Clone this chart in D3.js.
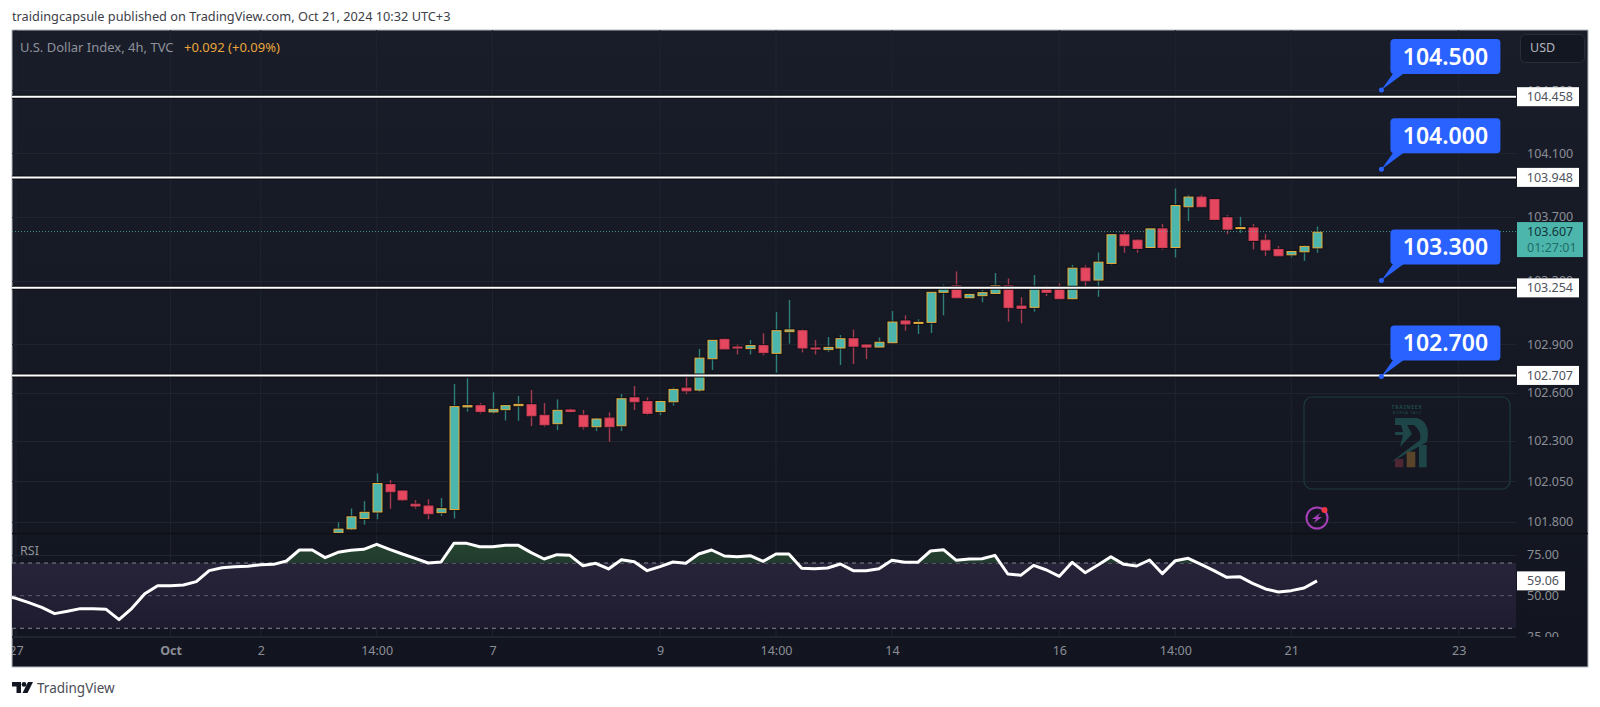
<!DOCTYPE html>
<html>
<head>
<meta charset="utf-8">
<script src="https://cdn.jsdelivr.net/npm/d3@7"></script>
<style>
    html, body { margin: 0; padding: 0; background: #ffffff; }
    svg { display: block; }
    text { font-family: "Noto Sans", sans-serif; }
</style>
</head>
<body>
<div id="chart"></div>
<script>
const opens = [101.732,101.756,101.820,101.860,102.030,101.990,101.908,101.897,101.856,101.875,102.511,102.519,102.480,102.494,102.519,102.525,102.459,102.407,102.492,102.459,102.388,102.442,102.394,102.568,102.545,102.482,102.543,102.628,102.616,102.811,102.932,102.884,102.874,102.893,102.845,102.980,102.986,102.878,102.868,102.878,102.936,102.897,102.884,102.911,103.047,103.032,103.038,103.226,103.267,103.192,103.205,103.219,103.267,103.140,103.132,103.260,103.255,103.186,103.378,103.303,103.407,103.587,103.553,103.507,103.624,103.507,103.763,103.824,103.809,103.694,103.626,103.630,103.553,103.495,103.461,103.480,103.505];
const highs = [101.796,101.882,101.927,102.099,102.057,101.994,101.933,101.938,101.946,102.653,102.689,102.535,102.602,102.523,102.579,102.616,102.535,102.558,102.500,102.492,102.442,102.477,102.591,102.641,102.570,102.551,102.632,102.720,102.872,102.928,102.938,102.899,102.928,102.970,103.103,103.178,102.997,102.928,102.947,102.959,102.993,102.901,102.943,103.109,103.082,103.057,103.226,103.274,103.357,103.217,103.240,103.347,103.313,103.196,103.334,103.272,103.282,103.398,103.396,103.476,103.587,103.612,103.559,103.624,103.654,103.878,103.838,103.838,103.809,103.710,103.700,103.654,103.591,103.516,103.488,103.520,103.639];
const lows = [101.728,101.748,101.782,101.815,101.880,101.927,101.880,101.815,101.835,101.820,102.482,102.470,102.470,102.427,102.425,102.392,102.388,102.367,102.476,102.371,102.361,102.295,102.361,102.492,102.460,102.460,102.519,102.591,102.603,102.741,102.872,102.838,102.838,102.832,102.724,102.905,102.851,102.838,102.853,102.772,102.778,102.809,102.882,102.911,102.986,102.965,102.972,103.082,103.192,103.190,103.164,103.219,103.043,103.032,103.105,103.203,103.186,103.182,103.246,103.198,103.396,103.474,103.474,103.507,103.493,103.445,103.673,103.763,103.675,103.591,103.599,103.495,103.455,103.455,103.445,103.423,103.474];
const closes = [101.754,101.830,101.858,102.036,101.985,101.935,101.897,101.849,101.880,102.513,102.519,102.482,102.496,102.519,102.527,102.456,102.400,102.490,102.482,102.388,102.436,102.388,102.562,102.543,102.471,102.545,102.620,102.611,102.815,102.926,102.872,102.878,102.893,102.849,102.986,102.991,102.878,102.872,102.882,102.936,102.889,102.884,102.914,103.040,103.028,103.038,103.226,103.260,103.192,103.213,103.224,103.267,103.130,103.126,103.260,103.226,103.186,103.377,103.298,103.415,103.587,103.518,103.501,103.624,103.507,103.771,103.824,103.763,103.683,103.622,103.632,103.551,103.491,103.455,103.482,103.514,103.603];

// rsi starts before the first visible candle
const rsiFirstIndex = -26;
const rsiValues = [50.0,48.37,45.71,42.86,38.98,40.41,42.04,42.04,41.63,35.31,42.24,51.22,56.12,56.12,56.53,58.57,65.31,67.14,67.76,67.96,68.98,69.18,71.22,77.96,77.96,73.27,76.53,77.76,78.37,81.43,78.37,75.51,72.86,70.0,70.61,82.04,82.04,80.0,80.0,80.82,80.82,76.33,72.45,75.10,74.69,68.37,69.80,66.33,72.04,70.82,65.31,67.76,70.61,69.80,75.51,77.96,74.29,73.88,74.49,71.02,75.51,75.51,66.73,66.53,66.94,69.39,65.31,65.31,66.53,71.63,70.41,70.41,77.35,78.16,71.63,72.45,72.65,74.69,63.27,62.45,68.57,65.71,61.84,70.41,64.08,68.78,73.88,69.18,68.16,71.84,63.47,71.43,72.86,69.18,65.31,61.22,61.63,57.55,54.08,52.24,53.06,54.69,59.06];

const timeTickIndex = [-25,-13,-6,3,12,25,34,43,56,65,74,87];
const timeTickLabels = ["27","Oct","2","14:00","7","9","14:00","14","16","14:00","21","23"];
const priceTicks = [104.5,104.1,103.7,103.3,102.9,102.6,102.3,102.05,101.8];
const rsiTicks = [75,50,25];
const rsiBands = [70,50,30];

const levelValues = [104.458,103.948,103.254,102.707];
const calloutValues = [104.5,104.0,103.3,102.7];
const calloutIndex = 81;

const lastPrice = 103.607;
const lastPriceCountdown = "01:27:01";
const lastRsi = 59.06;

const width = 1600;
const height = 707;
const pane = { left: 12, right: 1516, outer: 1588, top: 30, split: 533, rsiBottom: 637, bottom: 667 };

const axisColor = "#8b8e97";
const gridColor = "#20242f";
const upFill = "#4db6ac";
const upBorder = "#e6a93a";
const upWick = "#2e7f79";
const downFill = "#e5475f";
const downWick = "#a63a50";

const x = d3.scaleLinear().domain([0, 76]).range([338, 1317]);

// the price pane is on a log axis, label spacing shrinks going up
const y = d3.scaleLog().domain([101.8, 104.1]).range([521.7, 153.3]);
const yRsi = d3.scaleLinear().domain([30, 70]).range([628.3, 563]);

const svg = d3.select("#chart")
    .append("svg")
    .attr("width", width)
    .attr("height", height)
    .attr("viewBox", [0, 0, width, height]);

const defs = svg.append("defs");

const addGradient = (id, top, bottom) => {
    const gradient = defs.append("linearGradient")
        .attr("id", id)
        .attr("x1", 0).attr("x2", 0).attr("y1", 0).attr("y2", 1);
    gradient.append("stop").attr("offset", "0%").attr("stop-color", top);
    gradient.append("stop").attr("offset", "100%").attr("stop-color", bottom);
};
addGradient("bgGradient", "#191d29", "#12151f");
addGradient("bandGradient", "#272339", "#1f1c30");
addGradient("overGradient", "#25442f", "#182029");

const addClip = (id, x0, y0, w, h) => {
    defs.append("clipPath").attr("id", id)
        .append("rect").attr("x", x0).attr("y", y0).attr("width", w).attr("height", h);
};
addClip("priceClip", pane.left, pane.top, pane.right - pane.left, pane.split - pane.top);
addClip("rsiClip", pane.left, pane.split + 1, pane.right - pane.left, pane.rsiBottom - pane.split - 1);
addClip("rsiOverClip", pane.left, pane.split + 1, pane.right - pane.left, yRsi(70) - pane.split - 1);
addClip("rsiAxisClip", pane.right, pane.split + 1, pane.outer - pane.right, pane.rsiBottom - pane.split - 1);
addClip("timeClip", pane.left, pane.rsiBottom, pane.outer - pane.left, pane.bottom - pane.rsiBottom);

svg.append("text")
    .attr("x", 12).attr("y", 21)
    .attr("font-size", 12.75).attr("fill", "#3d4048")
    .text("traidingcapsule published on TradingView.com, Oct 21, 2024 10:32 UTC+3");

svg.append("rect")
    .attr("x", pane.left).attr("y", pane.top)
    .attr("width", pane.outer - pane.left).attr("height", pane.bottom - pane.top)
    .attr("fill", "url(#bgGradient)")
    .attr("stroke", "#b4b8c2");

// grid
svg.append("g")
    .selectAll("line")
    .data(timeTickIndex)
    .join("line")
    .attr("x1", d => x(d)).attr("x2", d => x(d))
    .attr("y1", pane.top).attr("y2", pane.rsiBottom)
    .attr("stroke", gridColor);

svg.append("g")
    .selectAll("line")
    .data(priceTicks)
    .join("line")
    .attr("x1", pane.left).attr("x2", pane.right)
    .attr("y1", d => Math.round(y(d)) + 0.5).attr("y2", d => Math.round(y(d)) + 0.5)
    .attr("stroke", gridColor);

svg.append("g")
    .attr("clip-path", "url(#rsiClip)")
    .selectAll("line")
    .data(rsiTicks)
    .join("line")
    .attr("x1", pane.left).attr("x2", pane.right)
    .attr("y1", d => Math.round(yRsi(d)) + 0.5).attr("y2", d => Math.round(yRsi(d)) + 0.5)
    .attr("stroke", gridColor);

svg.append("line")
    .attr("x1", pane.left).attr("x2", pane.outer)
    .attr("y1", pane.split + 0.5).attr("y2", pane.split + 0.5)
    .attr("stroke", "#0d0f15").attr("stroke-width", 1.5);

svg.append("line")
    .attr("x1", pane.left).attr("x2", pane.right)
    .attr("y1", pane.rsiBottom + 0.5).attr("y2", pane.rsiBottom + 0.5)
    .attr("stroke", gridColor);

// watermark logo box
const mark = svg.append("g").attr("transform", "translate(1304,397)");
mark.append("rect")
    .attr("width", 206).attr("height", 92).attr("rx", 8)
    .attr("fill", "none").attr("stroke", "#1c3a3c").attr("stroke-width", 1.2);
mark.append("text")
    .attr("x", 103).attr("y", 12)
    .attr("text-anchor", "middle").attr("font-size", 5).attr("font-weight", 700)
    .attr("letter-spacing", 0.8).attr("fill", "#1f4a4a")
    .text("TRAINEEX");
mark.append("text")
    .attr("x", 103).attr("y", 16.5)
    .attr("text-anchor", "middle").attr("font-size", 4).attr("fill", "#1f4a4a")
    .attr("letter-spacing", 0.6)
    .text("BORSA TALK");
mark.append("path")
    .attr("d", "M91,21 H113 Q124,24 124,38 L123,45 Q105,55 86,66 Q100,55 116,43 Q118,34 110,28 H103 L108,37 L96,50 L99,38 H91 L91,35 H99 L97,28 H91 Z")
    .attr("fill", "#1e4547");
mark.append("rect").attr("x", 91).attr("y", 62).attr("width", 8.3).attr("height", 8.3).attr("fill", "#4f2633");
mark.append("rect").attr("x", 102.7).attr("y", 54.7).attr("width", 8.6).attr("height", 15.6).attr("fill", "#5a452b");
mark.append("rect").attr("x", 115).attr("y", 48).attr("width", 7.7).attr("height", 22.3).attr("fill", "#1e4547");

// flash icon
const flash = svg.append("g").attr("transform", "translate(1317,518)");
flash.append("circle").attr("r", 10.5).attr("fill", "none").attr("stroke", "#a63fb8").attr("stroke-width", 2);
flash.append("path")
    .attr("d", "M3,-5 L-5,1 L-1,1 L-3,5 L5,-1 L1,-1 Z")
    .attr("fill", "#a63fb8");
flash.append("circle").attr("cx", 7.5).attr("cy", -8).attr("r", 3).attr("fill", "#f23645");

// candles
const candleData = opens.map((o, i) => ({ i, o, h: highs[i], l: lows[i], c: closes[i], up: closes[i] >= o }));

const candles = svg.append("g")
    .attr("clip-path", "url(#priceClip)")
    .selectAll("g")
    .data(candleData)
    .join("g");

candles.append("line")
    .attr("x1", d => Math.round(x(d.i)) + 0.5).attr("x2", d => Math.round(x(d.i)) + 0.5)
    .attr("y1", d => y(d.h)).attr("y2", d => y(d.l))
    .attr("stroke", d => d.up ? upWick : downWick)
    .attr("stroke-width", 1.4);

// dark halo round each body
candles.append("rect")
    .attr("x", d => Math.round(x(d.i)) - 5)
    .attr("y", d => y(Math.max(d.o, d.c)) - 1)
    .attr("width", 11)
    .attr("height", d => Math.max(1, Math.abs(y(d.o) - y(d.c))) + 2)
    .attr("fill", "none")
    .attr("stroke", "#0b0d13")
    .attr("stroke-opacity", 0.7)
    .attr("stroke-width", 1);

candles.append("rect")
    .attr("x", d => Math.round(x(d.i)) - 4)
    .attr("y", d => y(Math.max(d.o, d.c)))
    .attr("width", 9)
    .attr("height", d => Math.max(1, Math.abs(y(d.o) - y(d.c))))
    .attr("fill", d => d.up ? upFill : downFill)
    .attr("stroke", d => d.up ? upBorder : "#c93f56")
    .attr("stroke-width", 1);

// rsi pane
svg.append("rect")
    .attr("x", pane.left).attr("width", pane.right - pane.left)
    .attr("y", yRsi(70)).attr("height", yRsi(30) - yRsi(70))
    .attr("fill", "url(#bandGradient)");

svg.append("g")
    .selectAll("line")
    .data(rsiBands)
    .join("line")
    .attr("x1", pane.left).attr("x2", pane.right)
    .attr("y1", d => yRsi(d)).attr("y2", d => yRsi(d))
    .attr("stroke", d => d === 50 ? "#5b5a6b" : "#83858f")
    .attr("stroke-dasharray", "4 4");

const rsiData = rsiValues.map((v, i) => ({ i: rsiFirstIndex + i, v }));

const rsiArea = d3.area()
    .x(d => x(d.i))
    .y0(yRsi(70))
    .y1(d => yRsi(d.v));

svg.append("g")
    .attr("clip-path", "url(#rsiOverClip)")
    .append("path")
    .datum(rsiData)
    .attr("d", rsiArea)
    .attr("fill", "url(#overGradient)");

const rsiLine = d3.line()
    .x(d => x(d.i))
    .y(d => yRsi(d.v));

svg.append("g")
    .attr("clip-path", "url(#rsiClip)")
    .append("path")
    .datum(rsiData)
    .attr("d", rsiLine)
    .attr("fill", "none")
    .attr("stroke", "#ffffff")
    .attr("stroke-width", 3)
    .attr("stroke-linejoin", "round");

svg.append("text")
    .attr("x", 20).attr("y", 555)
    .attr("font-size", 12.5).attr("fill", "#8f929b")
    .text("RSI");

// axes
const styleAxis = (g) => {
    g.call(g => g.select(".domain").remove())
        .call(g => g.selectAll(".tick line").remove())
        .call(g => g.selectAll(".tick text")
            .attr("fill", axisColor)
            .style("font-family", "\"Noto Sans\", sans-serif")
            .style("font-size", "12.5px"));
};

svg.append("g")
    .attr("transform", `translate(${pane.right},0)`)
    .call(d3.axisRight(y).tickValues(priceTicks).tickFormat(d3.format(".3f")).tickSize(0).tickPadding(11))
    .call(styleAxis);

svg.append("g")
    .attr("clip-path", "url(#rsiAxisClip)")
    .append("g")
    .attr("transform", `translate(${pane.right},0)`)
    .call(d3.axisRight(yRsi).tickValues(rsiTicks).tickFormat(d3.format(".2f")).tickSize(0).tickPadding(11))
    .call(styleAxis);

svg.append("g")
    .attr("clip-path", "url(#timeClip)")
    .append("g")
    .attr("transform", `translate(0,${pane.rsiBottom})`)
    .call(d3.axisBottom(x).tickValues(timeTickIndex).tickFormat((d, i) => timeTickLabels[i]).tickSize(0).tickPadding(9))
    .call(styleAxis)
    .call(g => g.selectAll(".tick text")
        .style("font-weight", (d, i) => timeTickLabels[i] === "Oct" ? 700 : 400));

// last price line
svg.append("line")
    .attr("x1", pane.left).attr("x2", pane.right)
    .attr("y1", y(lastPrice)).attr("y2", y(lastPrice))
    .attr("stroke", upFill)
    .attr("stroke-opacity", 0.8)
    .attr("stroke-dasharray", "1 2");

// horizontal levels
const levels = svg.append("g")
    .selectAll("g")
    .data(levelValues)
    .join("g");

levels.append("line")
    .attr("x1", pane.left).attr("x2", pane.right)
    .attr("y1", d => y(d)).attr("y2", d => y(d))
    .attr("stroke", "#0a0b10").attr("stroke-width", 4);

levels.append("line")
    .attr("x1", pane.left).attr("x2", pane.right)
    .attr("y1", d => y(d)).attr("y2", d => y(d))
    .attr("stroke", "#ffffff").attr("stroke-width", 2);

levels.append("rect")
    .attr("x", pane.right + 1).attr("y", d => y(d) - 9.5)
    .attr("width", 62).attr("height", 19)
    .attr("fill", "#ffffff");

levels.append("text")
    .attr("x", pane.right + 57).attr("y", d => y(d))
    .attr("dy", "0.35em").attr("text-anchor", "end")
    .attr("font-size", 12.5).attr("fill", "#50535c")
    .text(d => d3.format(".3f")(d));

// last price tag
const lastTag = svg.append("g").attr("transform", `translate(${pane.right + 1},${y(lastPrice)})`);
lastTag.append("rect")
    .attr("y", -9.5).attr("width", 66).attr("height", 35)
    .attr("fill", upFill);
lastTag.append("text")
    .attr("x", 10).attr("y", 0).attr("dy", "0.35em")
    .attr("font-size", 12.5).attr("fill", "#10343a")
    .text(d3.format(".3f")(lastPrice));
lastTag.append("text")
    .attr("x", 10).attr("y", 16).attr("dy", "0.35em")
    .attr("font-size", 12.5).attr("fill", "#1f6d68")
    .text(lastPriceCountdown);

// rsi value tag
const rsiTag = svg.append("g").attr("transform", `translate(${pane.right + 1},${yRsi(lastRsi)})`);
rsiTag.append("rect")
    .attr("y", -9.5).attr("width", 48).attr("height", 19)
    .attr("fill", "#ffffff");
rsiTag.append("text")
    .attr("x", 10).attr("dy", "0.35em")
    .attr("font-size", 12.5).attr("fill", "#50535c")
    .text(d3.format(".2f")(lastRsi));

// blue callouts
const callouts = svg.append("g")
    .selectAll("g")
    .data(calloutValues)
    .join("g")
    .attr("transform", d => `translate(${x(calloutIndex)},${y(d)})`);

callouts.append("path")
    .attr("d", "M0,0 L12,-17 L23,-17 Z")
    .attr("fill", "#2962ff");
callouts.append("circle")
    .attr("r", 2.5)
    .attr("fill", "#2962ff");
callouts.append("rect")
    .attr("x", 9).attr("y", -51)
    .attr("width", 110).attr("height", 35).attr("rx", 4)
    .attr("fill", "#2962ff");
callouts.append("text")
    .attr("x", 64).attr("y", -33.5)
    .attr("dy", "0.35em").attr("text-anchor", "middle")
    .attr("font-size", 23).attr("font-weight", 600).attr("fill", "#ffffff")
    .text(d => d3.format(".3f")(d));

// legend
const legend = svg.append("text")
    .attr("x", 20).attr("y", 52)
    .attr("font-size", 13);
legend.append("tspan").attr("fill", "#8f929b").text("U.S. Dollar Index, 4h, TVC");
legend.append("tspan").attr("x", 184).attr("fill", "#eaa63a").text("+0.092 (+0.09%)");

// currency button
svg.append("rect")
    .attr("x", 1520.5).attr("y", 34.5)
    .attr("width", 64).attr("height", 28).attr("rx", 5)
    .attr("fill", "#131722").attr("stroke", "#2a2e39");
svg.append("text")
    .attr("x", 1530).attr("y", 48).attr("dy", "0.35em")
    .attr("font-size", 12.5).attr("fill", "#b2b5be")
    .text("USD");

// footer logo
const logo = svg.append("g").attr("transform", "translate(12,682)");
logo.append("path").attr("d", "M0,0 H9 V11 H4.5 V4.5 H0 Z").attr("fill", "#131722");
logo.append("circle").attr("cx", 12).attr("cy", 2.4).attr("r", 2.4).attr("fill", "#131722");
logo.append("path").attr("d", "M16,0 H21 L15.5,11 H10.5 Z").attr("fill", "#131722");
svg.append("text")
    .attr("x", 37).attr("y", 693)
    .attr("font-size", 13.5).attr("fill", "#4a4d55")
    .text("TradingView");
</script>
</body>
</html>
